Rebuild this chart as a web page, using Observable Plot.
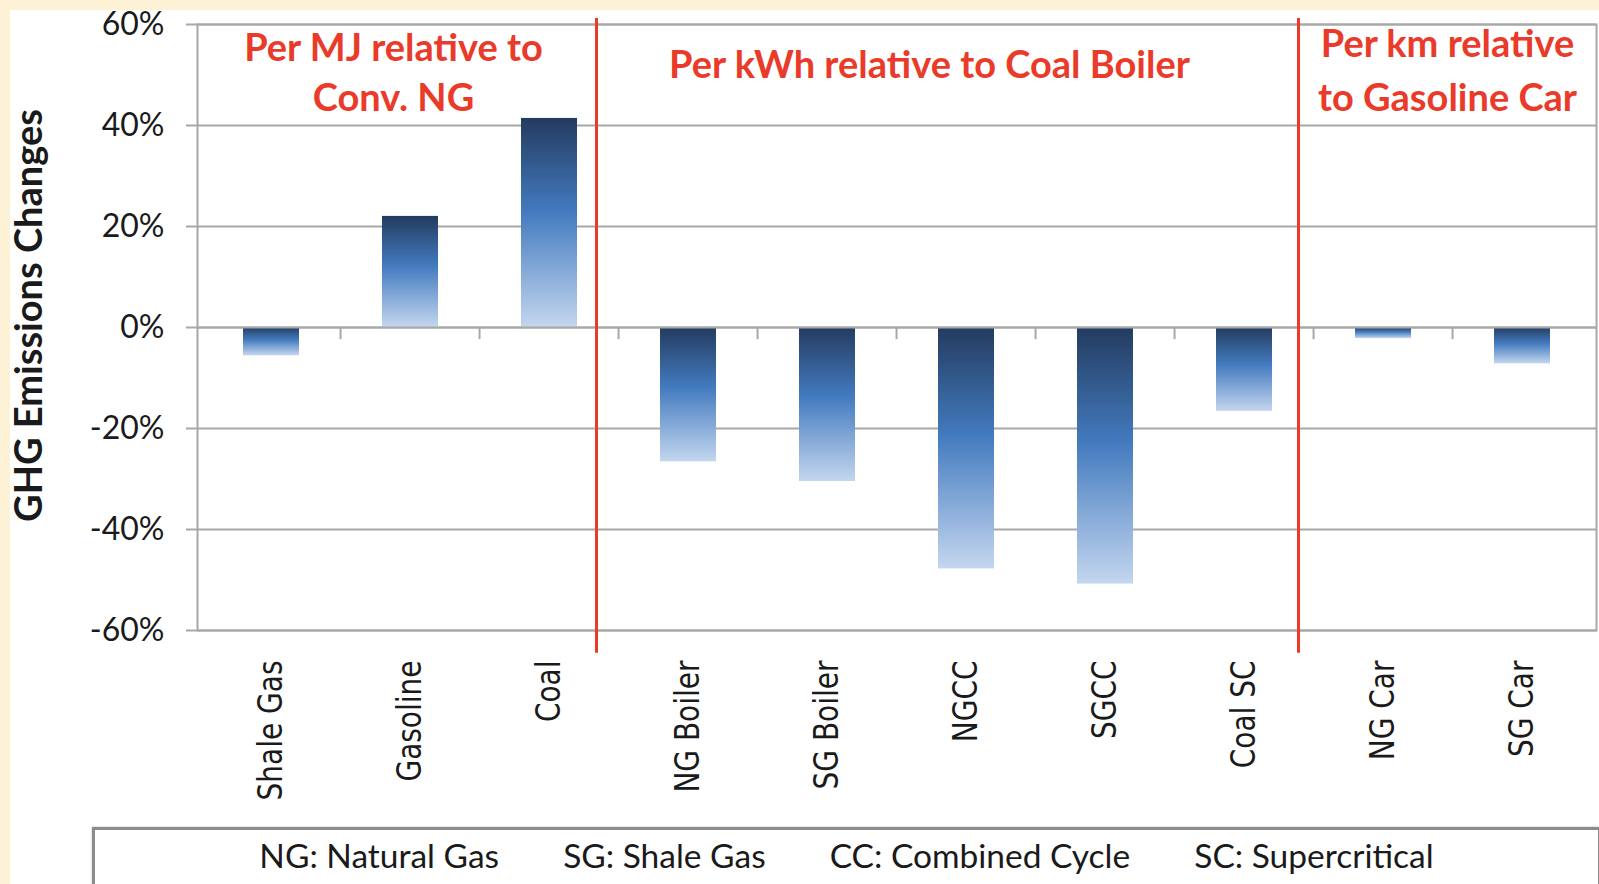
<!DOCTYPE html>
<html>
<head>
<meta charset="utf-8">
<script src="https://cdn.jsdelivr.net/npm/d3@7"></script>
<script src="https://cdn.jsdelivr.net/npm/@observablehq/plot@0.6"></script>
<style>
  html, body { margin: 0; padding: 0; background: #fdf1d6; width: 1599px; height: 884px; overflow: hidden; }
  #panel { position: absolute; left: 10px; top: 10px; width: 1589px; height: 874px; background: #fff; }
  #chart { position: absolute; left: 0; top: 0; }
  #legend {
    position: absolute; left: 82px; top: 817px; width: 1509px; height: 90px;
    box-sizing: border-box; border: 3px solid #8c8c8c; background: #fff;
    box-shadow: 0 0 2px #bbb;
    display: flex; justify-content: center; gap: 64px;
    padding-top: 9px; font-family: Lato, sans-serif; font-size: 33.5px; line-height: 33px; color: #1a1a1a;
  }
</style>
</head>
<body>
<div id="panel">
  <div id="chart"></div>
  <div id="legend"></div>
</div>
<script>
const categories = ["Shale Gas", "Gasoline", "Coal", "NG Boiler", "SG Boiler", "NGCC", "SGCC", "Coal SC", "NG Car", "SG Car"];
const changes = [-5.6, 22.0, 41.4, -26.6, -30.5, -47.8, -50.8, -16.6, -2.2, -7.2];
const yTicks = [-60, -40, -20, 0, 20, 40, 60];
const sectionNotes = ["Per MJ relative to\nConv. NG", "Per kWh relative to Coal Boiler", "Per km relative\nto Gasoline Car"];
const sectionEnds = ["Coal", "Coal SC"];
const legendItems = ["NG: Natural Gas", "SG: Shale Gas", "CC: Combined Cycle", "SC: Supercritical"];
const yTitle = "GHG Emissions Changes";

const data = categories.map((c, i) => ({category: c, value: changes[i]}));

const W = 1589, H = 812, ML = 187, MR = 3, MT = 14, MB = 192;
const step = (W - ML - MR) / categories.length;
const gridColor = "#a8a8a8";
const red = "#ea3b2a";

const gradientDefs = () => {
  const defs = d3.create("svg:defs");
  const g = defs.append("linearGradient").attr("id", "barGrad")
    .attr("x1", 0).attr("y1", 0).attr("x2", 0).attr("y2", 1);
  g.append("stop").attr("offset", "0%").attr("stop-color", "#233b5f");
  g.append("stop").attr("offset", "45%").attr("stop-color", "#437bbf");
  g.append("stop").attr("offset", "100%").attr("stop-color", "#c4d6ef");
  return defs.node();
};

const plot = Plot.plot({
  width: W, height: H,
  marginLeft: ML, marginRight: MR, marginTop: MT, marginBottom: MB,
  style: {background: "#fff", overflow: "visible"},
  x: {domain: categories, paddingInner: 0.6, paddingOuter: 0.3},
  y: {domain: [-60, 60]},
  marks: [
    gradientDefs,
    Plot.ruleY(yTicks, {stroke: gridColor, strokeWidth: 2}),
    Plot.frame({stroke: gridColor, strokeWidth: 2}),
    Plot.barY(data, {x: "category", y: "value", fill: "url(#barGrad)"}),
    Plot.ruleY([0], {stroke: gridColor, strokeWidth: 2}),
    Plot.ruleX(categories.slice(1), {x: d => d, y1: 0, y2: -2.4, dx: -step / 2, stroke: gridColor, strokeWidth: 2}),
    Plot.axisY({ticks: yTicks, tickFormat: d => d + "%", tickSize: 11, tickPadding: 22, label: null,
      fontSize: 32, fontFamily: "Lato", stroke: gridColor, strokeWidth: 2, fill: "#1a1a1a"}),
    Plot.axisX({tickSize: 0, tickRotate: -90, tickPadding: 30, label: null,
      fontSize: 28, fontFamily: "DejaVu Sans", fill: "#1a1a1a"}),
    Plot.ruleX([sectionEnds[0]], {x: d => d, y1: 61.2, y2: -64.5, dx: 47, stroke: red, strokeWidth: 3}),
    Plot.ruleX([sectionEnds[1]], {x: d => d, y1: 61.2, y2: -64.5, dx: 54, stroke: red, strokeWidth: 3}),
    Plot.text([sectionNotes[0]], {x: () => "Gasoline", y: () => 51.0, dx: -17, text: d => d,
      fontSize: 38, fontWeight: "bold", fontFamily: "Lato", fill: red, lineHeight: 1.33}),
    Plot.text([sectionNotes[1]], {x: () => "NGCC", y: () => 51.9, dx: -37, text: d => d,
      fontSize: 38, fontWeight: "bold", fontFamily: "Lato", fill: red}),
    Plot.text([sectionNotes[2]], {x: () => "NG Car", y: () => 51.6, dx: 64, text: d => d,
      fontSize: 38, fontWeight: "bold", fontFamily: "Lato", fill: red, lineHeight: 1.4}),
    Plot.text([yTitle], {frameAnchor: "left", dx: -168, dy: -12, rotate: -90, textAnchor: "middle", text: d => d,
      fontSize: 38, fontWeight: "bold", fontFamily: "Lato", fill: "#1a1a1a"})
  ]
});

plot.querySelectorAll('[aria-label="x-axis tick label"] text').forEach(t => {
  const tr = t.getAttribute("transform");
  if (tr) t.setAttribute("transform", tr + " scale(1,1.2)");
});

document.getElementById("chart").appendChild(plot);
const legend = document.getElementById("legend");
legendItems.forEach(s => {
  const span = document.createElement("span");
  span.textContent = s;
  legend.appendChild(span);
});
</script>
</body>
</html>
